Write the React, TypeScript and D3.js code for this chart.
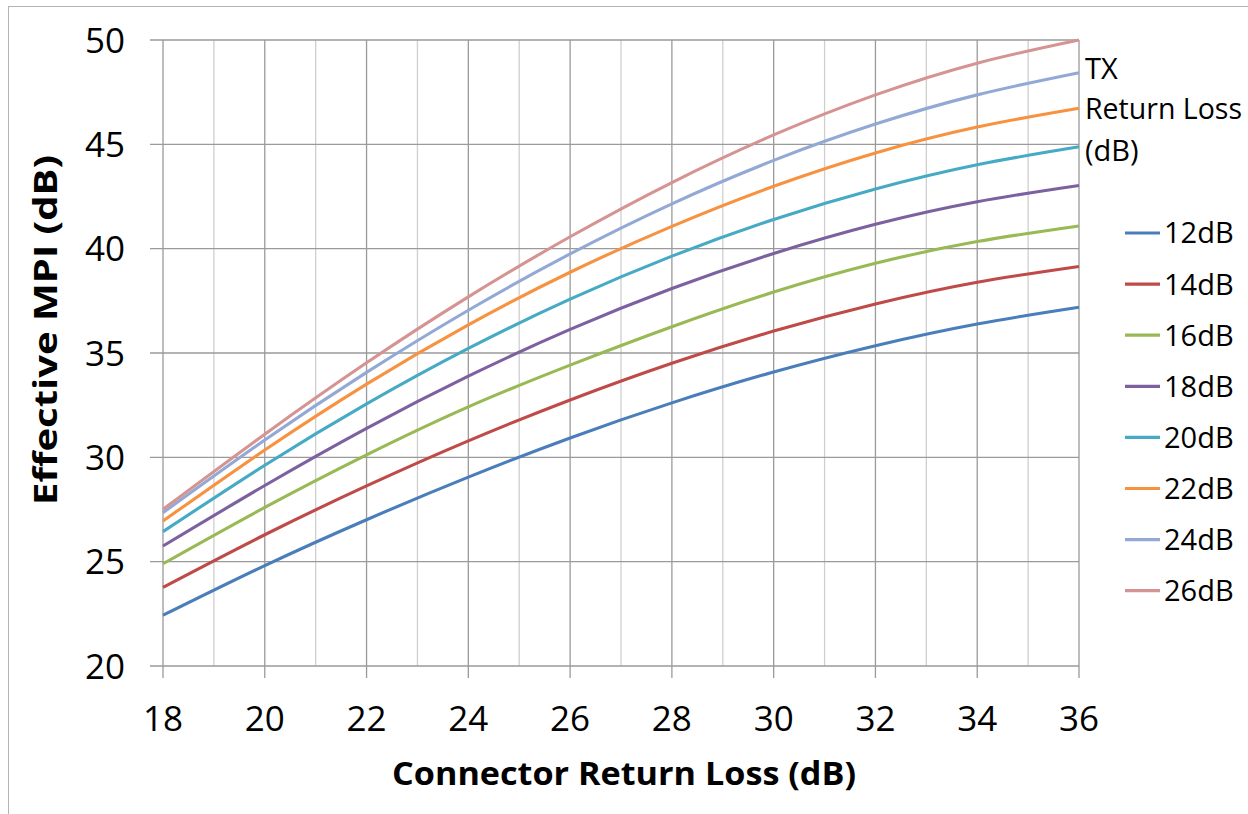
import React from "react";
import * as d3 from "d3";

// Connector return loss sample points (dB)
const connectorRL = [18, 20, 22, 24, 26, 28, 30, 32, 34, 36];

// TX return loss series labels
const txLabels = ["12dB", "14dB", "16dB", "18dB", "20dB", "22dB", "24dB", "26dB"];

// Effective MPI (dB) for each TX return loss
const mpi12 = [22.43, 24.81, 27.01, 29.05, 30.93, 32.61, 34.09, 35.35, 36.39, 37.19];
const mpi14 = [23.77, 26.29, 28.63, 30.79, 32.75, 34.51, 36.05, 37.35, 38.39, 39.15];
const mpi16 = [24.9, 27.6, 30.12, 32.42, 34.42, 36.26, 37.92, 39.3, 40.34, 41.09];
const mpi18 = [25.75, 28.65, 31.39, 33.89, 36.13, 38.09, 39.77, 41.17, 42.25, 43.03];
const mpi20 = [26.44, 29.62, 32.56, 35.22, 37.58, 39.64, 41.4, 42.86, 44.02, 44.88];
const mpi22 = [26.95, 30.35, 33.51, 36.35, 38.87, 41.07, 42.99, 44.59, 45.83, 46.73];
const mpi24 = [27.35, 30.83, 34.07, 37.05, 39.75, 42.15, 44.23, 45.97, 47.37, 48.43];
const mpi26 = [27.51, 31.11, 34.53, 37.69, 40.57, 43.17, 45.45, 47.37, 48.89, 50.0];

const seriesValues = [mpi12, mpi14, mpi16, mpi18, mpi20, mpi22, mpi24, mpi26];
const seriesColors = ["#4A7EBB", "#BE4B48", "#98B954", "#7D60A0", "#46AAC5", "#F69240", "#93A9D5", "#D59392"];

const xTicks = [18, 20, 22, 24, 26, 28, 30, 32, 34, 36];
const xMinor = d3.range(18, 37, 1);
const yTicks = [20, 25, 30, 35, 40, 45, 50];

const W = 1248;
const H = 814;
const plot = { left: 163, right: 1079, top: 40, bottom: 666 };
const font = "'Open Sans', 'Liberation Sans', sans-serif";

export default function App() {
  const x = d3.scaleLinear().domain([18, 36]).range([plot.left, plot.right]);
  const y = d3.scaleLinear().domain([20, 50]).range([plot.bottom, plot.top]);

  const line = d3
    .line<[number, number]>()
    .x((d) => x(d[0]))
    .y((d) => y(d[1]))
    .curve(d3.curveNatural);

  const legendX1 = 1125;
  const legendX2 = 1160;
  const legendY0 = 233;
  const legendStep = 51.1;

  return (
    <svg
      width={W}
      height={H}
      style={{ position: "absolute", left: 0, top: 0, background: "#fff" }}
      fontFamily={font}
    >
      {/* chart frame */}
      <rect x={8.5} y={6.5} width={1400} height={1000} fill="none" stroke="#b4b4b4" strokeWidth={1} />

      {/* minor vertical gridlines */}
      {xMinor
        .filter((v) => v % 2 === 1)
        .map((v) => (
          <line key={"mn" + v} x1={x(v)} x2={x(v)} y1={plot.top} y2={plot.bottom} stroke="#cfcfcf" strokeWidth={1.3} />
        ))}
      {/* major vertical gridlines + ticks */}
      {xTicks.map((v) => (
        <line key={"mj" + v} x1={x(v)} x2={x(v)} y1={plot.top} y2={plot.bottom + 12} stroke="#9a9a9a" strokeWidth={1.3} />
      ))}
      {/* horizontal gridlines + ticks */}
      {yTicks.map((v) => (
        <line key={"h" + v} x1={plot.left - 13} x2={plot.right} y1={y(v)} y2={y(v)} stroke="#9a9a9a" strokeWidth={1.3} />
      ))}

      {/* series */}
      {seriesValues.map((vals, i) => (
        <path
          key={"s" + i}
          d={line(connectorRL.map((c, j) => [c, vals[j]] as [number, number])) || ""}
          fill="none"
          stroke={seriesColors[i]}
          strokeWidth={3.1}
        />
      ))}

      {/* y tick labels */}
      {yTicks.map((v) => (
        <text key={"yl" + v} x={125} y={y(v)} dy="0.36em" textAnchor="end" fontSize={35} fill="#000">
          {v}
        </text>
      ))}
      {/* x tick labels */}
      {xTicks.map((v) => (
        <text key={"xl" + v} x={x(v)} y={731} textAnchor="middle" fontSize={35} fill="#000">
          {v}
        </text>
      ))}

      {/* axis titles */}
      <text
        x={624}
        y={785}
        textAnchor="middle"
        fontSize={33}
        fontWeight="bold"
        textLength={464}
        lengthAdjust="spacingAndGlyphs"
        fill="#000"
      >
        Connector Return Loss (dB)
      </text>
      <text
        transform="translate(57,330) rotate(-90)"
        textAnchor="middle"
        fontSize={33}
        fontWeight="bold"
        textLength={350}
        lengthAdjust="spacingAndGlyphs"
        fill="#000"
      >
        Effective MPI (dB)
      </text>

      {/* legend title */}
      <text x={1085} y={79} fontSize={29} fill="#000">TX</text>
      <text x={1085} y={119} fontSize={29} fill="#000" textLength={157} lengthAdjust="spacingAndGlyphs">
        Return Loss
      </text>
      <text x={1085} y={161} fontSize={29} fill="#000">(dB)</text>

      {/* legend entries */}
      {txLabels.map((lab, i) => {
        const ly = legendY0 + i * legendStep;
        return (
          <g key={"lg" + i}>
            <line x1={legendX1} x2={legendX2} y1={ly} y2={ly} stroke={seriesColors[i]} strokeWidth={3.2} />
            <text x={1164} y={ly} dy="0.36em" fontSize={29} fill="#000">
              {lab}
            </text>
          </g>
        );
      })}
    </svg>
  );
}
